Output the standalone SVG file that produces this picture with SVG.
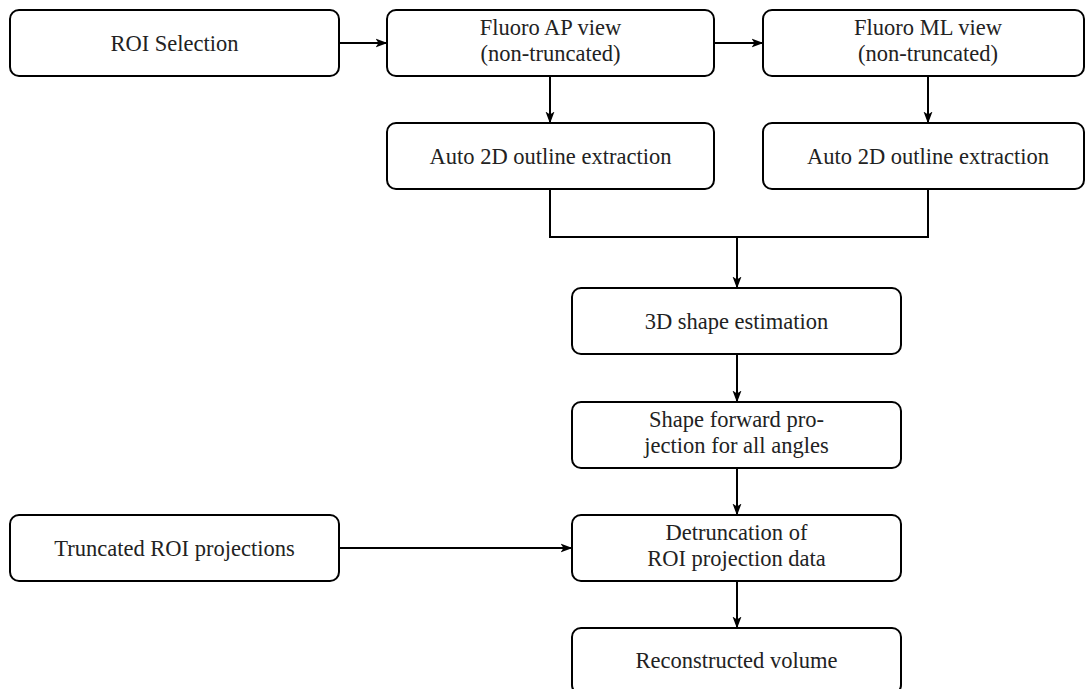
<svg xmlns="http://www.w3.org/2000/svg" width="1085" height="689" viewBox="0 0 1085 689">
<defs>
<style>
.box{fill:#fff;stroke:#000;stroke-width:2}
.t{font-size:22.5px;fill:#222;text-anchor:middle}
.c{fill:none;stroke:#000;stroke-width:2}
</style>
<marker id="ah" viewBox="0 0 12 10" refX="11.5" refY="5" markerWidth="12" markerHeight="10" markerUnits="userSpaceOnUse" orient="auto">
<path d="M0,0.5 L12,5 L0,9.5 L3,5 Z" fill="#000"/>
</marker>
</defs>
<rect width="1085" height="689" fill="#fff"/>
<g id="connectors">
<path class="c" d="M339,43 H387" marker-end="url(#ah)"/>
<path class="c" d="M714,43 H763" marker-end="url(#ah)"/>
<path class="c" d="M550,76 V123" marker-end="url(#ah)"/>
<path class="c" d="M928,76 V123" marker-end="url(#ah)"/>
<path class="c" d="M550,189 V237 H928 V189"/>
<path class="c" d="M737,237 V288" marker-end="url(#ah)"/>
<path class="c" d="M737,354 V402" marker-end="url(#ah)"/>
<path class="c" d="M737,468 V515" marker-end="url(#ah)"/>
<path class="c" d="M339,548 H572" marker-end="url(#ah)"/>
<path class="c" d="M737,581 V628" marker-end="url(#ah)"/>
</g>
<g id="nodes" font-family="Liberation Serif, Times New Roman, Tinos, DejaVu Serif, Noto Serif, FreeSerif, serif">
<g id="roi-selection">
<rect class="box" x="10" y="10" width="329" height="66" rx="9"/>
<text class="t" x="174.5" y="51">ROI Selection</text>
</g>
<g id="fluoro-ap">
<rect class="box" x="387" y="10" width="327" height="66" rx="9"/>
<text class="t" x="550.5" y="35">Fluoro AP view</text>
<text class="t" x="550.5" y="61">(non-truncated)</text>
</g>
<g id="fluoro-ml">
<rect class="box" x="763" y="10" width="321" height="66" rx="9"/>
<text class="t" x="928" y="35">Fluoro ML view</text>
<text class="t" x="928" y="61">(non-truncated)</text>
</g>
<g id="outline-ap">
<rect class="box" x="387" y="123" width="327" height="66" rx="9"/>
<text class="t" x="550.5" y="164">Auto 2D outline extraction</text>
</g>
<g id="outline-ml">
<rect class="box" x="763" y="123" width="321" height="66" rx="9"/>
<text class="t" x="928" y="164">Auto 2D outline extraction</text>
</g>
<g id="shape-estimation">
<rect class="box" x="572" y="288" width="329" height="66" rx="9"/>
<text class="t" x="736.5" y="329">3D shape estimation</text>
</g>
<g id="forward-projection">
<rect class="box" x="572" y="402" width="329" height="66" rx="9"/>
<text class="t" x="736.5" y="427">Shape forward pro-</text>
<text class="t" x="736.5" y="453">jection for all angles</text>
</g>
<g id="truncated-roi">
<rect class="box" x="10" y="515" width="329" height="66" rx="9"/>
<text class="t" x="174.5" y="556">Truncated ROI projections</text>
</g>
<g id="detruncation">
<rect class="box" x="572" y="515" width="329" height="66" rx="9"/>
<text class="t" x="736.5" y="540">Detruncation of</text>
<text class="t" x="736.5" y="566">ROI projection data</text>
</g>
<g id="reconstructed">
<rect class="box" x="572" y="628" width="329" height="66" rx="9"/>
<text class="t" x="736.5" y="668">Reconstructed volume</text>
</g>
</g>
</svg>
